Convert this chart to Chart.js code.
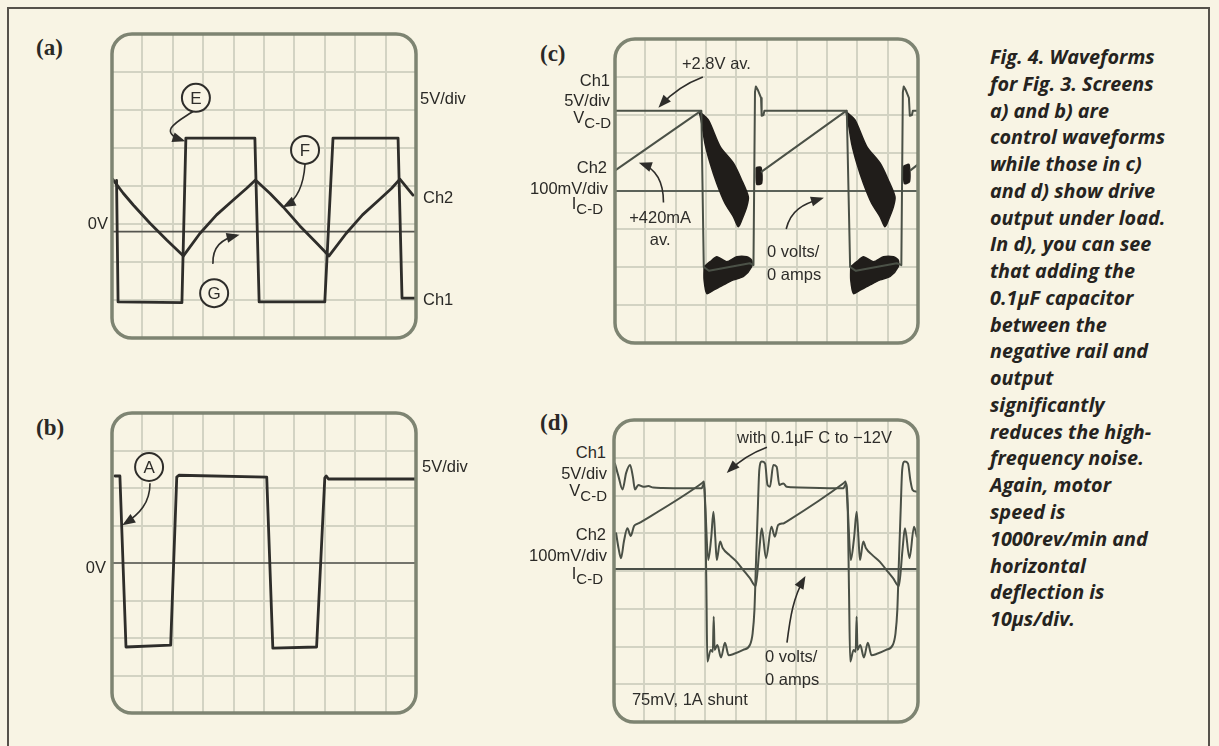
<!DOCTYPE html>
<html lang="en">
<head>
<meta charset="utf-8">
<title>Fig. 4 - scope waveforms</title>
<script src="https://cdn.jsdelivr.net/npm/chart.js@4.4.1/dist/chart.umd.min.js"></script>
<style>
  html, body { margin: 0; padding: 0; }
  body {
    width: 1219px; height: 746px; position: relative; overflow: hidden;
    background: #f8f4e4; color: #2a2926;
    font-family: "Liberation Sans", Arial, sans-serif;
  }
  #frame {
    position: absolute; left: 7px; top: 7px; width: 1203px; height: 800px;
    border: 2px solid #56524b; box-sizing: border-box;
  }
  canvas { position: absolute; }
  .lbl { position: absolute; font-size: 16.5px; white-space: nowrap; line-height: 1; transform: translateY(-50%); }
  .lbl.r { transform: translate(-100%, -50%); }
  .lbl sub { font-size: 15px; vertical-align: -5px; }
  .tag { font-family: "Liberation Serif", serif; font-weight: bold; font-size: 23px; }
  #caption {
    position: absolute; left: 990px; top: 44px;
    font-family: "Open Sans", sans-serif; font-style: italic; font-weight: 700;
    font-size: 19.8px; line-height: 26.76px; white-space: nowrap; color: #252320;
  }
</style>
</head>
<body>
<div id="frame"></div>
<div id="caption"></div>
<script>
// values: x in divisions (0..10), y in divisions (-4..4)
const xRange = [0, 10];
const yRange = [-4, 4];

// (a) control waveforms
const aZero = [[0, -1.2], [10, -1.2]];
const aCh1 = [[0.15, 0.15], [0.2, -3.05], [2.3, -3.07], [2.43, 1.26], [4.7, 1.26], [4.84, -3.05],
  [7.0, -3.05], [7.27, 1.26], [9.41, 1.26], [9.54, -2.95], [10, -2.95]];
const aCh2 = [[0.02, 0.18], [0.37, -0.19], [0.7, -0.5], [1.25, -0.98], [1.8, -1.42], [2.35, -1.84],
  [2.89, -1.25], [3.44, -0.76], [3.99, -0.37], [4.43, -0.06], [4.72, 0.16], [5.2, -0.2], [5.63, -0.55],
  [6.18, -1.05], [6.73, -1.5], [7.14, -1.84], [7.7, -1.25], [8.24, -0.76], [8.78, -0.37], [9.2, -0.06],
  [9.47, 0.18], [9.9, -0.24]];

// (b) control waveform
const bZero = [[0, 0], [10, 0]];
const bCh1 = [[0.1, 2.32], [0.26, 2.32], [0.46, -2.24], [1.93, -2.19], [2.13, 2.29], [2.2, 2.34],
  [5.09, 2.29], [5.29, -2.27], [6.73, -2.24], [7.0, 2.27], [7.05, 2.32], [7.12, 2.24], [9.97, 2.24]];

// (c) drive output under load
const cZero = [[0, 0], [10, 0]];
const cCh1 = [[0, 2.11], [2.85, 2.11], [2.93, -2.0], [3.1, -2.1], [4.45, -1.9], [4.57, -1.95], [4.62, 2.6],
  [4.65, 2.75], [4.72, 2.65], [4.82, 2.45], [4.84, 1.98], [4.9, 2.0], [4.93, 2.11], [7.65, 2.11],
  [7.76, -2.0], [7.95, -2.1], [9.3, -1.9], [9.45, -1.95], [9.5, 2.6], [9.53, 2.75], [9.6, 2.65],
  [9.7, 2.45], [9.73, 1.98], [9.8, 2.0], [9.83, 2.11], [10, 2.11]];
const cRamp1 = [[0.02, 0.55], [2.8, 2.09]];
const cRamp2 = [[4.84, 0.51], [7.63, 2.11]];
const cRamp3 = [[9.76, 0.55], [10, 0.7]];
const cSmear1 = [[2.78, 2.09], [3.08, 1.87], [3.47, 1.17], [3.91, 0.73], [4.18, 0.29], [4.4, -0.15],
  [4.35, -0.41], [4.18, -0.77], [4.07, -0.94], [3.91, -0.68], [3.63, -0.32], [3.36, 0.2], [3.14, 0.73],
  [2.97, 1.25], [2.86, 1.78]];
const cSmear2 = [[7.62, 2.09], [7.92, 1.87], [8.31, 1.17], [8.75, 0.73], [9.02, 0.29], [9.24, -0.15],
  [9.19, -0.41], [9.02, -0.77], [8.91, -0.94], [8.75, -0.68], [8.47, -0.32], [8.2, 0.2], [7.98, 0.73],
  [7.81, 1.25], [7.7, 1.78]];
const cLow1 = [[2.94, -1.99], [3.14, -1.86], [3.36, -1.73], [3.69, -1.86], [4.02, -1.73], [4.35, -1.73],
  [4.51, -1.82], [4.51, -1.99], [4.24, -2.25], [3.91, -2.34], [3.58, -2.47], [3.25, -2.61], [3.03, -2.7],
  [2.94, -2.34]];
const cLow2 = [[7.78, -1.99], [7.98, -1.86], [8.2, -1.73], [8.53, -1.86], [8.86, -1.73], [9.19, -1.73],
  [9.35, -1.82], [9.35, -1.99], [9.08, -2.25], [8.75, -2.34], [8.42, -2.47], [8.09, -2.61], [7.87, -2.7],
  [7.78, -2.34]];
const cBlob1 = [[4.66, 0.62], [4.82, 0.62], [4.84, 0.2], [4.68, 0.18]];
const cBlob2 = [[9.52, 0.65], [9.7, 0.7], [9.72, 0.25], [9.55, 0.2]];

// (d) with 0.1uF capacitor to -12V
const dZero = [[0, 0.05], [10, 0.05]];
const dCh1 = [[0.03, 2.85], [0.15, 2.5], [0.28, 2.16], [0.4, 2.6], [0.53, 2.81], [0.62, 2.5], [0.69, 2.16],
  [0.8, 2.28], [0.97, 2.23], [1.13, 2.25], [1.29, 2.21], [1.6, 2.2], [2.88, 2.19], [2.96, 2.32], [3.0, 1.6],
  [3.04, -0.5], [3.07, -2.4], [3.18, -2.09], [3.25, -2.14], [3.28, -1.21], [3.31, -2.09], [3.4, -1.96],
  [3.52, -2.29], [3.65, -1.9], [3.77, -2.23], [3.93, -2.2], [4.25, -2.09], [4.47, -1.96], [4.56, -1.65],
  [4.62, -1.03], [4.67, 0.2], [4.73, 1.62], [4.78, 2.68], [4.86, 2.9], [4.97, 2.85], [5.05, 2.28],
  [5.13, 2.23], [5.24, 2.81], [5.35, 2.76], [5.44, 2.28], [5.57, 2.32], [5.68, 2.23], [5.84, 2.22],
  [7.54, 2.19], [7.64, 2.32], [7.69, 1.6], [7.73, -0.5], [7.77, -2.4], [7.88, -2.09], [7.95, -2.14],
  [7.98, -1.21], [8.01, -2.09], [8.1, -1.96], [8.22, -2.29], [8.35, -1.9], [8.47, -2.23], [8.63, -2.2],
  [8.95, -2.09], [9.17, -1.96], [9.26, -1.65], [9.32, -1.03], [9.37, 0.2], [9.43, 1.62], [9.48, 2.68],
  [9.56, 2.9], [9.67, 2.85], [9.75, 2.4], [9.82, 2.15], [9.96, 2.1]];
const dCh2 = [[0.07, 1.0], [0.15, 0.6], [0.23, 0.34], [0.33, 0.8], [0.44, 1.13], [0.55, 0.93], [0.66, 1.19],
  [0.8, 1.26], [0.91, 1.31], [2.9, 2.33], [2.96, 2.37], [3.0, 1.8], [3.1, 0.29], [3.2, 0.9], [3.27, 1.57],
  [3.33, 0.9], [3.38, 0.29], [3.49, 0.78], [3.58, 0.6], [3.8, 0.42], [4.03, 0.25], [4.25, 0.03],
  [4.47, -0.19], [4.66, -0.4], [4.78, 0.56], [4.86, 1.13], [5.0, 0.34], [5.18, 1.17], [5.29, 0.91],
  [5.4, 1.22], [5.57, 1.26], [5.68, 1.31], [7.56, 2.33], [7.62, 2.37], [7.68, 1.8], [7.79, 0.29],
  [7.9, 0.9], [7.98, 1.57], [8.04, 0.9], [8.09, 0.29], [8.2, 0.78], [8.29, 0.6], [8.5, 0.42], [8.74, 0.25],
  [8.96, 0.03], [9.18, -0.19], [9.37, -0.4], [9.49, 0.56], [9.57, 1.13], [9.72, 0.34], [9.87, 1.17],
  [9.96, 0.91]];

const captionLines = ['Fig. 4. Waveforms', 'for Fig. 3. Screens', 'a) and b) are', 'control waveforms',
  'while those in c)', 'and d) show drive', 'output under load.', 'In d), you can see', 'that adding the',
  '0.1µF capacitor', 'between the', 'negative rail and', 'output', 'significantly', 'reduces the high-',
  'frequency noise.', 'Again, motor', 'speed is', '1000rev/min and', 'horizontal', 'deflection is',
  '10µs/div.'];

// styling
const PAGE_BG = '#f8f4e4';
const GRID = '#d3d3c3';
const BEZEL = '#7e8472';
const INK = '#2e2d2a';
const SMEAR = '#201d1a';
const PAD = 6;

// annotation marks (circles, arrows, inner texts), in divisions
const aMarks = {
  circles: [{x: 2.76, y: 2.32, t: 'E'}, {x: 6.35, y: 0.95, t: 'F'}, {x: 3.36, y: -2.82, t: 'G'}],
  arrows: [
    [[2.73, 2.0], [2.3, 1.75], [1.4, 1.45], [2.32, 1.2]],
    [[6.35, 0.58], [6.3, 0.0], [6.1, -0.35], [5.7, -0.52]],
    [[3.32, -2.05], [3.3, -1.6], [3.6, -1.4], [4.1, -1.3]]
  ]
};
const bMarks = {
  circles: [{x: 1.22, y: 2.56, t: 'A'}],
  arrows: [[[1.25, 2.13], [1.25, 1.6], [0.9, 1.3], [0.42, 1.05]]]
};
const cMarks = {
  texts: [{x: 2.21, y: 3.32, t: '+2.8V av.'}, {x: 1.49, y: -0.71, t: '+420mA', c: true},
    {x: 1.49, y: -1.29, t: 'av.', c: true}, {x: 5.02, y: -1.63, t: '0 volts/'}, {x: 5.02, y: -2.21, t: '0 amps'}],
  arrows: [
    [[2.9, 3.0], [2.4, 2.85], [1.9, 2.6], [1.5, 2.25]],
    [[1.6, -0.3], [1.6, 0.3], [1.3, 0.6], [0.88, 0.72]],
    [[5.65, -1.0], [5.8, -0.5], [6.2, -0.35], [6.8, -0.2]]
  ]
};
const dMarks = {
  texts: [{x: 4.05, y: 3.52, t: 'with 0.1µF C to −12V'}, {x: 4.97, y: -2.3, t: '0 volts/'},
    {x: 4.97, y: -2.89, t: '0 amps'}, {x: 0.59, y: -3.42, t: '75mV, 1A shunt'}],
  arrows: [
    [[5.03, 3.28], [4.6, 3.15], [4.1, 2.9], [3.78, 2.65]],
    [[5.69, -1.9], [5.8, -1.2], [5.9, -0.7], [6.25, -0.2]]
  ]
};

// labels around the screens (page pixels)
const outerLabels = [
  {t: '(a)', x: 36, y: 47, tag: true}, {t: '5V/div', x: 420, y: 98}, {t: 'Ch2', x: 423, y: 197},
  {t: 'Ch1', x: 423, y: 299}, {t: '0V', x: 108, y: 223, r: true},
  {t: '(b)', x: 36, y: 427, tag: true}, {t: '5V/div', x: 422, y: 466}, {t: '0V', x: 106, y: 567, r: true},
  {t: '(c)', x: 540, y: 53, tag: true}, {t: 'Ch1', x: 610, y: 80, r: true}, {t: '5V/div', x: 610, y: 100, r: true},
  {t: 'V<sub>C-D</sub>', x: 611, y: 119, r: true}, {t: 'Ch2', x: 607, y: 167, r: true},
  {t: '100mV/div', x: 608, y: 188, r: true}, {t: 'I<sub>C-D</sub>', x: 603, y: 205, r: true},
  {t: '(d)', x: 540, y: 422, tag: true}, {t: 'Ch1', x: 606, y: 452, r: true}, {t: '5V/div', x: 607, y: 473, r: true},
  {t: 'V<sub>C-D</sub>', x: 607, y: 492, r: true}, {t: 'Ch2', x: 606, y: 534, r: true},
  {t: '100mV/div', x: 607, y: 555, r: true}, {t: 'I<sub>C-D</sub>', x: 603, y: 575, r: true}
];

function roundRectPath(ctx, x, y, w, h, r) {
    ctx.moveTo(x + r, y);
    ctx.arcTo(x + w, y, x + w, y + h, r);
    ctx.arcTo(x + w, y + h, x, y + h, r);
    ctx.arcTo(x, y + h, x, y, r);
    ctx.arcTo(x, y, x + w, y, r);
    ctx.closePath();
}

// bezel, rounded corners and the hand-drawn notes
const scopePlugin = {
    id: 'scope',
    afterDatasetsDraw(chart, args, opts) {
        const {ctx, chartArea: a, scales} = chart;
        const px = v => scales.x.getPixelForValue(v);
        const py = v => scales.y.getPixelForValue(v);
        ctx.save();

        // mask grid outside the rounded screen
        ctx.fillStyle = PAGE_BG;
        ctx.beginPath();
        ctx.rect(0, 0, chart.width, chart.height);
        roundRectPath(ctx, a.left, a.top, a.right - a.left, a.bottom - a.top, 20);
        ctx.fill('evenodd');

        ctx.strokeStyle = BEZEL;
        ctx.lineWidth = 3.5;
        ctx.beginPath();
        roundRectPath(ctx, a.left, a.top, a.right - a.left, a.bottom - a.top, 20);
        ctx.stroke();

        ctx.strokeStyle = INK;
        ctx.fillStyle = INK;
        ctx.lineWidth = 1.6;
        (opts.arrows || []).forEach(p => {
            const q = p.map(([x, y]) => [px(x), py(y)]);
            ctx.beginPath();
            ctx.moveTo(q[0][0], q[0][1]);
            ctx.bezierCurveTo(q[1][0], q[1][1], q[2][0], q[2][1], q[3][0], q[3][1]);
            ctx.stroke();
            const ang = Math.atan2(q[3][1] - q[2][1], q[3][0] - q[2][0]);
            const [tx, ty] = q[3];
            ctx.beginPath();
            ctx.moveTo(tx + Math.cos(ang) * 3, ty + Math.sin(ang) * 3);
            ctx.lineTo(tx - Math.cos(ang) * 10 - Math.sin(ang) * 5, ty - Math.sin(ang) * 10 + Math.cos(ang) * 5);
            ctx.lineTo(tx - Math.cos(ang) * 10 + Math.sin(ang) * 5, ty - Math.sin(ang) * 10 - Math.cos(ang) * 5);
            ctx.closePath();
            ctx.fill();
        });

        (opts.circles || []).forEach(c => {
            ctx.beginPath();
            ctx.arc(px(c.x), py(c.y), 14, 0, Math.PI * 2);
            ctx.fillStyle = PAGE_BG;
            ctx.fill();
            ctx.lineWidth = 2;
            ctx.stroke();
            ctx.fillStyle = INK;
            ctx.font = '17px "Liberation Sans", Arial, sans-serif';
            ctx.textAlign = 'center';
            ctx.textBaseline = 'middle';
            ctx.fillText(c.t, px(c.x), py(c.y) + 1);
        });

        ctx.font = '16.5px "Liberation Sans", Arial, sans-serif';
        ctx.textBaseline = 'middle';
        ctx.fillStyle = INK;
        (opts.texts || []).forEach(t => {
            ctx.textAlign = t.c ? 'center' : 'left';
            ctx.fillText(t.t, px(t.x), py(t.y));
        });
        ctx.restore();
    }
};

const pts = arr => arr.map(([x, y]) => ({x, y}));

function trace(arr, color, width, extra) {
    return Object.assign({
        data: pts(arr), borderColor: color, borderWidth: width, pointRadius: 0,
        fill: false, tension: 0, borderJoinStyle: 'round', borderCapStyle: 'round'
    }, extra || {});
}

function smear(arr) {
    return {
        data: pts(arr.concat([arr[0]])), borderColor: SMEAR, backgroundColor: SMEAR,
        borderWidth: 1.5, pointRadius: 0, fill: 'shape', tension: 0.25
    };
}

function axis(range) {
    return {
        type: 'linear', min: range[0], max: range[1],
        ticks: {display: false, stepSize: 1},
        grid: {color: GRID, lineWidth: 2, drawTicks: false},
        border: {display: false}
    };
}

function makeScope(box, datasets, marks) {
    const cv = document.createElement('canvas');
    cv.width = box.w + PAD * 2;
    cv.height = box.h + PAD * 2;
    cv.style.left = (box.left - PAD) + 'px';
    cv.style.top = (box.top - PAD) + 'px';
    document.body.appendChild(cv);
    return new Chart(cv, {
        type: 'line',
        data: {datasets},
        options: {
            responsive: false,
            animation: false,
            events: [],
            devicePixelRatio: 1,
            layout: {padding: PAD},
            plugins: {legend: {display: false}, tooltip: {enabled: false}, scope: marks},
            scales: {x: axis(xRange), y: axis(yRange)}
        },
        plugins: [scopePlugin]
    });
}

makeScope({left: 112, top: 34, w: 304, h: 304}, [
    trace(aCh1, INK, 2.8),
    trace(aCh2, INK, 2.8),
    trace(aZero, '#55554f', 1.6)
], aMarks);

makeScope({left: 112, top: 413, w: 304, h: 300}, [
    trace(bCh1, INK, 2.8),
    trace(bZero, '#55554f', 1.6)
], bMarks);

makeScope({left: 615, top: 39, w: 303, h: 304}, [
    trace(cCh1, '#4b5147', 2),
    trace(cRamp1, '#4b5147', 2),
    trace(cRamp2, '#4b5147', 2),
    trace(cRamp3, '#4b5147', 2),
    smear(cSmear1), smear(cSmear2), smear(cLow1), smear(cLow2), smear(cBlob1), smear(cBlob2),
    trace(cZero, '#5c6259', 2)
], cMarks);

makeScope({left: 614, top: 420, w: 304, h: 302}, [
    trace(dCh1, '#4a5046', 2, {cubicInterpolationMode: 'monotone'}),
    trace(dCh2, '#4a5046', 2, {cubicInterpolationMode: 'monotone'}),
    trace(dZero, '#4a4f48', 2)
], dMarks);

outerLabels.forEach(l => {
    const el = document.createElement('div');
    el.className = 'lbl' + (l.r ? ' r' : '') + (l.tag ? ' tag' : '');
    el.style.left = l.x + 'px';
    el.style.top = l.y + 'px';
    el.innerHTML = l.t;
    document.body.appendChild(el);
});

document.getElementById('caption').innerHTML = captionLines.join('<br>');
</script>
</body>
</html>
